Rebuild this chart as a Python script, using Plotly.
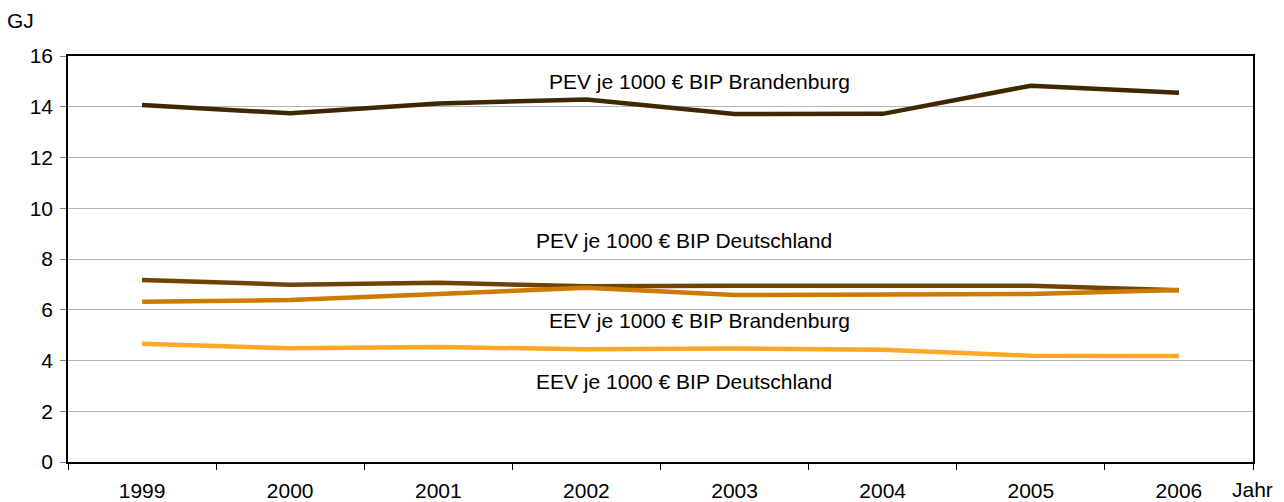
import plotly.graph_objects as go

# Jahre und Werte (GJ je 1000 EUR BIP)
jahre = ["1999", "2000", "2001", "2002", "2003", "2004", "2005", "2006"]
pev_bb = [14.07, 13.74, 14.13, 14.29, 13.71, 13.72, 14.83, 14.55]
pev_de = [7.17, 6.99, 7.06, 6.93, 6.95, 6.95, 6.95, 6.77]
eev_bb = [6.32, 6.38, 6.62, 6.87, 6.58, 6.59, 6.62, 6.78]
eev_de = [4.66, 4.48, 4.53, 4.44, 4.47, 4.42, 4.19, 4.18]

fig = go.Figure()
fig.add_trace(go.Scatter(x=jahre, y=pev_bb, mode="lines", line=dict(color="#3F2800", width=4.5)))
fig.add_trace(go.Scatter(x=jahre, y=pev_de, mode="lines", line=dict(color="#704400", width=4.5)))
fig.add_trace(go.Scatter(x=jahre, y=eev_bb, mode="lines", line=dict(color="#CC7A00", width=4.5)))
fig.add_trace(go.Scatter(x=jahre, y=eev_de, mode="lines", line=dict(color="#FFA726", width=4.5)))

schrift = dict(family="Liberation Sans, Arial", size=21, color="black")

# Beschriftungen im Diagramm
beschriftung = [
    ("PEV je 1000 € BIP Brandenburg", 0.533, 15.0),
    ("PEV je 1000 € BIP Deutschland", 0.520, 8.71),
    ("EEV je 1000 € BIP Brandenburg", 0.533, 5.56),
    ("EEV je 1000 € BIP Deutschland", 0.520, 3.19),
]
for txt, px, py in beschriftung:
    fig.add_annotation(text=txt, x=px, y=py, xref="paper", yref="y",
                       showarrow=False, font=schrift)

fig.add_annotation(text="GJ", x=-0.053, y=1.088, xref="paper", yref="paper",
                   xanchor="left", yanchor="middle", showarrow=False, font=schrift)
fig.add_annotation(text="Jahr", x=0.981, y=-0.068, xref="paper", yref="paper",
                   xanchor="left", yanchor="middle", showarrow=False, font=schrift)

fig.update_layout(
    width=1284, height=502,
    margin=dict(l=68, r=31, t=56, b=40),
    paper_bgcolor="white", plot_bgcolor="white",
    showlegend=False,
    font=schrift,
)
fig.update_xaxes(
    type="category", tickson="boundaries", ticks="outside", ticklen=6,
    tickcolor="black", showline=True, linecolor="black", linewidth=1.5,
    mirror=True, showgrid=False, range=[-0.5, 7.5], tickfont=schrift,
    ticklabelstandoff=9, automargin=False,
)
fig.update_yaxes(
    range=[0, 16], dtick=2, ticks="outside", ticklen=6, tickcolor="#808080",
    showline=True, linecolor="black", linewidth=1.5, mirror=True,
    showgrid=True, gridcolor="#B4B4B4", gridwidth=1,
    zeroline=True, zerolinecolor="black", zerolinewidth=2, tickfont=schrift,
    ticklabelstandoff=3, automargin=False,
)

# Seitenrand des Browsers entfernen
fig.write_html("out.html", config={"displayModeBar": False},
               post_script="document.body.style.margin='0';")
